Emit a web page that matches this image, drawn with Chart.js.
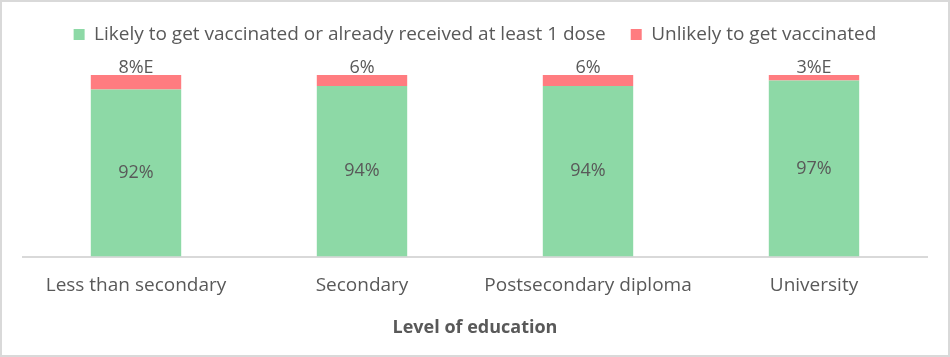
<!DOCTYPE html>
<html>
<head>
<meta charset="utf-8">
<script src="https://cdn.jsdelivr.net/npm/chart.js@4"></script>
<style>
  html, body { margin: 0; padding: 0; background: #fff; }
  #wrap { position: relative; width: 946px; height: 353px; border: 2px solid #d9d9d9; }
</style>
</head>
<body>
<div id="wrap"><canvas id="chart" width="946" height="353"></canvas></div>
<script>
'use strict';

const categories   = ['Less than secondary', 'Secondary', 'Postsecondary diploma', 'University'];
const likelyVals   = [92, 94, 94, 97];
const unlikelyVals = [8, 6, 6, 3];
const unlikelyText = ['8%E', '6%', '6%', '3%E'];

const FONT = "'Open Sans', sans-serif";
const TEXT = '#595959';

// ── Value labels ─────────────────────────────────────────────────────────────

const barLabels = {
  id: 'barLabels',
  afterDatasetsDraw(chart) {
    const ctx = chart.ctx;
    ctx.save();
    ctx.font = '18px ' + FONT;
    ctx.fillStyle = TEXT;
    ctx.textAlign = 'center';

    chart.getDatasetMeta(0).data.forEach((bar, i) => {
      ctx.textBaseline = 'middle';
      ctx.fillText(likelyVals[i] + '%', bar.x, (bar.y + bar.base) / 2);
    });

    chart.getDatasetMeta(1).data.forEach((bar, i) => {
      ctx.textBaseline = 'bottom';
      ctx.fillText(unlikelyText[i], bar.x, bar.y + 2);
    });
    ctx.restore();
  },
};

// extra room under the legend
const legendGap = {
  id: 'legendGap',
  afterInit(chart) {
    const legend = chart.legend;
    const fit = legend.fit;
    legend.fit = function () {
      fit.call(this);
      this.height += 21;
    };
  },
};

new Chart(document.getElementById('chart'), {
  type: 'bar',
  data: {
    labels: categories,
    datasets: [
      {
        label: 'Likely to get vaccinated or already received at least 1 dose',
        data: likelyVals,
        backgroundColor: '#8dd9a6',
      },
      {
        label: 'Unlikely to get vaccinated',
        data: unlikelyVals,
        backgroundColor: '#ff7c80',
      },
    ],
  },
  options: {
    responsive: false,
    animation: false,
    layout: { padding: { left: 21, right: 21, top: -2, bottom: 12 } },
    datasets: { bar: { categoryPercentage: 1, barPercentage: 0.4 } },
    plugins: {
      legend: {
        position: 'top',
        labels: {
          font: { family: FONT, size: 19 },
          color: TEXT,
          boxWidth: 11,
          boxHeight: 11,
          padding: 25,
        },
      },
      tooltip: { enabled: false },
    },
    scales: {
      x: {
        stacked: true,
        grid: { display: false },
        border: { color: '#d9d9d9', width: 2 },
        ticks: { font: { family: FONT, size: 19 }, color: TEXT, padding: 10 },
        title: {
          display: true,
          text: 'Level of education',
          font: { family: FONT, size: 18, weight: 'bold' },
          color: TEXT,
          padding: { top: 10 },
        },
      },
      y: {
        stacked: true,
        display: false,
        min: 0,
        max: 100,
      },
    },
  },
  plugins: [barLabels, legendGap],
});
</script>
</body>
</html>
